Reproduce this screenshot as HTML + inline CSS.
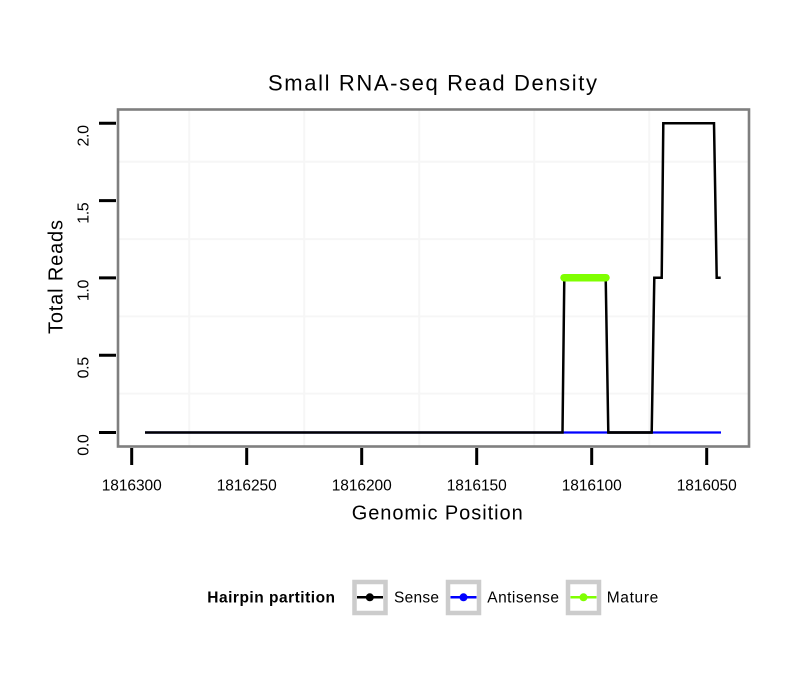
<!DOCTYPE html>
<html><head><meta charset="utf-8"><style>
html,body{margin:0;padding:0;background:#fff;}
svg{display:block;}
text{font-family:"Liberation Sans",Arial,sans-serif;fill:#000;}
</style></head><body>
<svg width="810" height="690" viewBox="0 0 810 690" xmlns="http://www.w3.org/2000/svg">
<rect x="0" y="0" width="810" height="690" fill="#fff"/>
<!-- title -->
<text x="268" y="90.5" font-size="22" textLength="329" lengthAdjust="spacing">Small RNA-seq Read Density</text>
<!-- panel -->
<rect x="118" y="109.5" width="631" height="337" fill="#fff"/>
<g stroke="#f6f6f6" stroke-width="2" fill="none">
<line x1="189.2" y1="110" x2="189.2" y2="446"/>
<line x1="304.2" y1="110" x2="304.2" y2="446"/>
<line x1="419.2" y1="110" x2="419.2" y2="446"/>
<line x1="534.2" y1="110" x2="534.2" y2="446"/>
<line x1="649.2" y1="110" x2="649.2" y2="446"/>
<line x1="119" y1="161.8" x2="748" y2="161.8"/>
<line x1="119" y1="239.1" x2="748" y2="239.1"/>
<line x1="119" y1="316.4" x2="748" y2="316.4"/>
<line x1="119" y1="393.6" x2="748" y2="393.6"/>
</g>
<!-- antisense -->
<line x1="145" y1="432.5" x2="721" y2="432.5" stroke="#0000ff" stroke-width="2.2"/>
<!-- sense -->
<path d="M145,432.5 H562.5 L564.3,277.7 H605.7 L608.3,432.5 H651.7 L654.3,277.7 H661.7 L663.3,123.3 H714 L716.7,277.7 H720.7" fill="none" stroke="#000" stroke-width="2.5" stroke-linejoin="miter"/>
<line x1="607.5" y1="432.5" x2="652.5" y2="432.5" stroke="#000" stroke-width="2.5"/>
<!-- mature -->
<line x1="564" y1="277.7" x2="606" y2="277.7" stroke="#7fff00" stroke-width="7.5" stroke-linecap="round"/>
<!-- panel border -->
<rect x="118" y="109.5" width="631" height="337" fill="none" stroke="#7f7f7f" stroke-width="2.6"/>
<!-- y ticks -->
<g stroke="#000" stroke-width="3">
<line x1="99" y1="123.3" x2="116" y2="123.3"/>
<line x1="99" y1="200.6" x2="116" y2="200.6"/>
<line x1="99" y1="277.9" x2="116" y2="277.9"/>
<line x1="99" y1="355.2" x2="116" y2="355.2"/>
<line x1="99" y1="432.5" x2="116" y2="432.5"/>
</g>
<g font-size="16">
<text transform="translate(88.3,125) rotate(-90)" text-anchor="end" textLength="21.5" lengthAdjust="spacing">2.0</text>
<text transform="translate(88.3,202.3) rotate(-90)" text-anchor="end" textLength="21.5" lengthAdjust="spacing">1.5</text>
<text transform="translate(88.3,279.6) rotate(-90)" text-anchor="end" textLength="21.5" lengthAdjust="spacing">1.0</text>
<text transform="translate(88.3,356.9) rotate(-90)" text-anchor="end" textLength="21.5" lengthAdjust="spacing">0.5</text>
<text transform="translate(88.3,434.2) rotate(-90)" text-anchor="end" textLength="21.5" lengthAdjust="spacing">0.0</text>
</g>
<!-- x ticks -->
<g stroke="#000" stroke-width="3">
<line x1="131.7" y1="448" x2="131.7" y2="465"/>
<line x1="246.7" y1="448" x2="246.7" y2="465"/>
<line x1="361.7" y1="448" x2="361.7" y2="465"/>
<line x1="476.7" y1="448" x2="476.7" y2="465"/>
<line x1="591.7" y1="448" x2="591.7" y2="465"/>
<line x1="706.7" y1="448" x2="706.7" y2="465"/>
</g>
<g font-size="15.5">
<text x="101.7" y="490.5" textLength="60" lengthAdjust="spacing">1816300</text>
<text x="216.7" y="490.5" textLength="60" lengthAdjust="spacing">1816250</text>
<text x="331.7" y="490.5" textLength="60" lengthAdjust="spacing">1816200</text>
<text x="446.7" y="490.5" textLength="60" lengthAdjust="spacing">1816150</text>
<text x="561.7" y="490.5" textLength="60" lengthAdjust="spacing">1816100</text>
<text x="676.7" y="490.5" textLength="60" lengthAdjust="spacing">1816050</text>
</g>
<!-- axis titles -->
<text x="351.7" y="519.5" font-size="20" textLength="171" lengthAdjust="spacing">Genomic Position</text>
<text transform="translate(62.7,334) rotate(-90)" font-size="20" textLength="114" lengthAdjust="spacing">Total Reads</text>
<!-- legend -->
<text x="207.3" y="602.7" font-size="15.5" font-weight="bold" textLength="127.7" lengthAdjust="spacing">Hairpin partition</text>
<g fill="#fff" stroke="#cccccc" stroke-width="4.5">
<rect x="354.5" y="582" width="31" height="31"/>
<rect x="448" y="582" width="31" height="31"/>
<rect x="568" y="582" width="31" height="31"/>
</g>
<line x1="357" y1="597.3" x2="383" y2="597.3" stroke="#000" stroke-width="2.5"/>
<circle cx="369.8" cy="597.3" r="4" fill="#000"/>
<line x1="450.5" y1="597.3" x2="476.5" y2="597.3" stroke="#0000ff" stroke-width="2.5"/>
<circle cx="463.5" cy="597.3" r="4" fill="#0000ff"/>
<line x1="570.5" y1="597.3" x2="596.5" y2="597.3" stroke="#7fff00" stroke-width="2.5"/>
<circle cx="583.5" cy="597.3" r="4" fill="#7fff00"/>
<g font-size="15.5">
<text x="394" y="602.7" textLength="45" lengthAdjust="spacing">Sense</text>
<text x="487.3" y="602.7" textLength="71.7" lengthAdjust="spacing">Antisense</text>
<text x="606.7" y="602.7" textLength="51.6" lengthAdjust="spacing">Mature</text>
</g>
</svg>
</body></html>
